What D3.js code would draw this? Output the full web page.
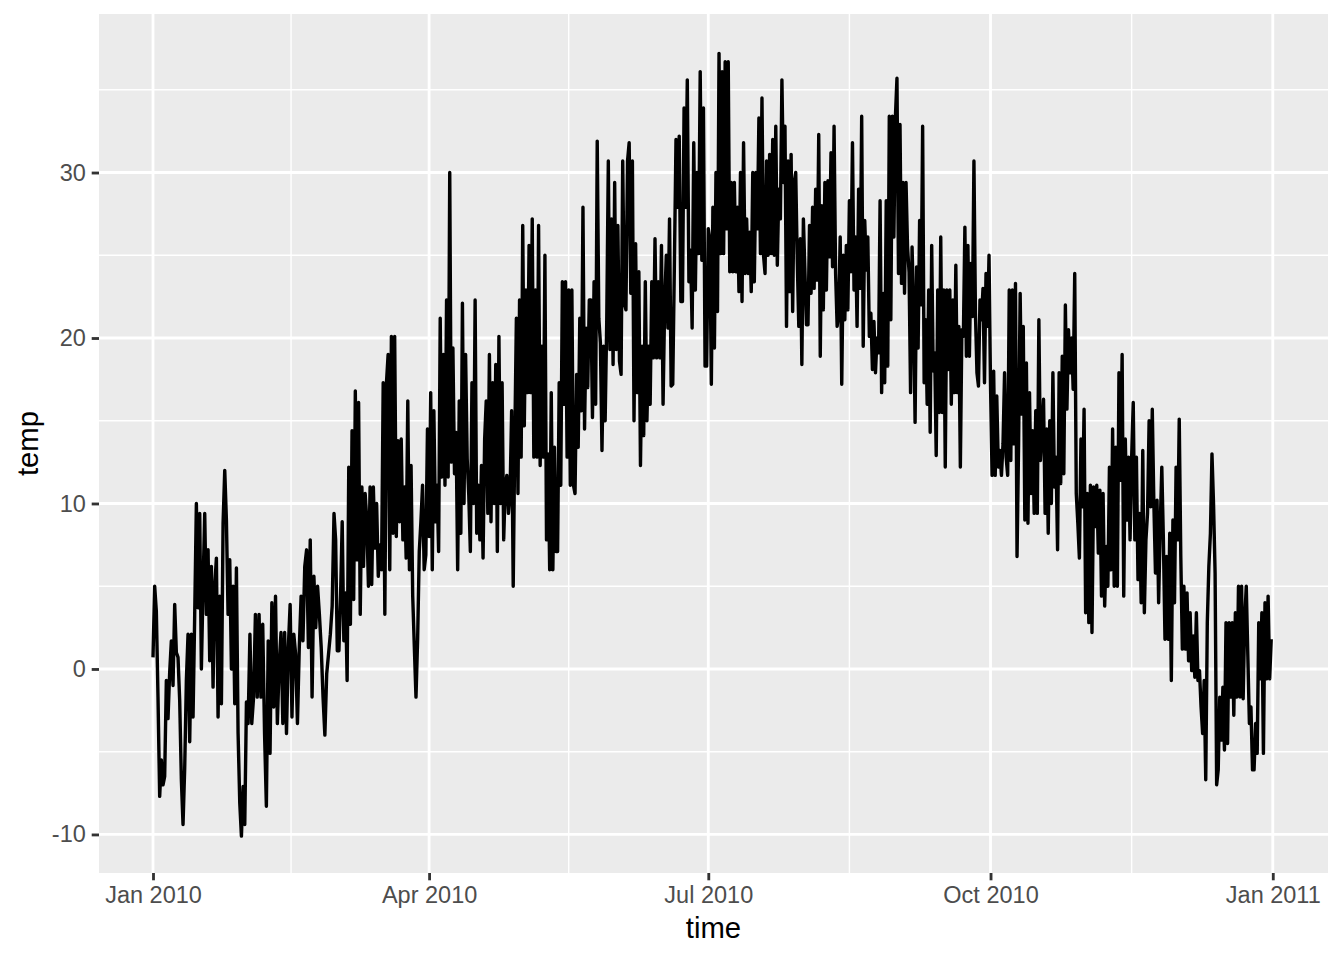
<!DOCTYPE html>
<html><head><meta charset="utf-8">
<script src="https://cdn.jsdelivr.net/npm/d3@7"></script>
<style>body{margin:0;background:#fff} svg{display:block}</style>
</head><body>
<svg id="chart" width="1344" height="960"></svg>
<script>
// Temperature observations per month (evenly spaced through each month)
const jan = [0.7, 5.0, 3.5, -1.7, -7.7, -5.5, -7.0, -6.5, -0.7, -3.0, -0.2, 1.7, -1.0, 3.9, 1.0, 0.7, -1.9, -6.7, -9.4, -6.0, -0.7, 2.1, -4.4, 2.1, -2.9, 3.3, 10.0, 3.7, 9.4, 0.0, 5.0, 9.4, 3.3, 7.2, 0.5, 6.2, -1.1, 5.0, 6.7, -2.9, 4.4, -2.1, 8.8, 12.0, 9.0, 3.3, 6.6, 0.0, 5.0, -2.1, 6.1, -3.9, -8.1, -10.1, -7.1, -9.4, -2.0];
const feb = [-3.3, 2.1, -3.3, -1.7, 3.3, -1.7, 3.3, -1.7, 2.7, -3.9, -8.3, 1.7, -5.1, 4.0, -2.3, 4.4, -3.3, 0.3, 2.2, -3.3, 2.2, -3.9, 1.3, 3.9, -2.9, 2.1, 0.9, -3.3, 1.3, 4.4, 1.7, 6.2, 7.2, 1.3, 7.8, -1.7, 5.6, 2.5, 5.0, 3.3, 1.3, -1.7, -4.0, -0.3, 0.9, 2.1, 3.8];
const mar = [9.4, 7.8, 1.1, 1.1, 4.4, 8.9, 1.7, 4.6, -0.7, 12.2, 2.7, 14.4, 4.2, 16.8, 6.6, 16.1, 3.3, 11.0, 6.2, 10.6, 9.0, 5.0, 11.0, 5.1, 11.0, 7.3, 10.0, 5.6, 7.5, 6.0, 17.3, 3.3, 17.3, 19.0, 6.0, 20.1, 8.2, 20.1, 8.0, 13.8, 8.9, 13.9, 7.8, 11.0, 6.7, 16.2, 6.0, 12.3, 4.4, 1.3, -1.7, 1.8, 7.1, 8.9, 11.1, 6.0, 6.9, 14.5];
const apr = [8.0, 16.7, 6.0, 15.6, 8.9, 11.1, 7.1, 21.2, 11.6, 19.0, 11.1, 22.3, 11.6, 30.0, 12.5, 19.4, 11.8, 14.3, 6.0, 16.2, 8.2, 22.1, 10.0, 19.0, 12.7, 10.5, 7.1, 17.3, 10.0, 22.3, 8.2, 11.1, 7.8, 12.3, 6.7, 13.9, 16.2, 9.4, 19.0, 8.9, 17.3, 10.0, 18.4, 7.1, 20.1, 10.0, 17.3, 7.8, 11.1, 11.7, 9.4, 10.6, 15.6, 5.0, 13.9, 21.2, 10.6, 22.3];
const may = [12.8, 26.8, 14.7, 22.9, 16.7, 25.6, 16.7, 27.2, 12.8, 22.9, 12.8, 26.8, 12.3, 19.5, 12.8, 25.0, 7.8, 13.0, 6.0, 16.7, 6.0, 13.4, 7.1, 7.1, 17.3, 11.1, 23.4, 16.0, 23.4, 12.8, 22.9, 11.1, 22.9, 11.1, 10.6, 17.8, 13.4, 21.2, 15.6, 27.9, 14.5, 20.6, 17.0, 22.3, 22.3, 15.2, 23.4, 16.0, 31.9, 21.2, 19.7, 13.2, 19.5, 15.0, 21.0, 30.7, 19.3, 27.2, 18.4, 29.4];
const jun = [19.3, 26.8, 18.6, 17.8, 30.7, 22.1, 21.7, 30.7, 31.8, 22.7, 30.7, 15.0, 25.7, 16.7, 24.0, 12.3, 19.5, 14.1, 23.4, 15.0, 19.5, 16.0, 23.4, 18.8, 26.0, 18.8, 23.4, 18.8, 25.6, 16.0, 22.1, 25.0, 20.6, 27.2, 17.1, 17.2, 24.4, 32.0, 27.9, 32.2, 22.2, 22.2, 33.9, 27.9, 35.6, 23.4, 25.3, 20.6, 31.8, 22.9, 30.0, 25.1, 36.1, 24.7, 33.9, 18.3, 18.3];
const jul = [26.6, 26.0, 17.2, 27.9, 19.4, 30.0, 21.6, 37.2, 25.1, 36.1, 25.1, 36.7, 26.6, 36.7, 24.0, 29.4, 24.0, 29.4, 24.0, 27.9, 22.8, 30.0, 22.2, 31.8, 23.9, 27.2, 23.9, 26.4, 22.8, 30.0, 23.4, 30.0, 26.6, 33.3, 25.1, 34.5, 25.0, 23.9, 30.7, 25.0, 31.1, 25.1, 32.0, 25.0, 32.8, 24.4, 29.0, 27.2, 35.6, 29.4, 32.8, 20.7, 30.7, 22.8, 31.1, 21.6, 29.4, 30.0, 24.7, 20.7, 26.0, 18.4];
const aug = [27.2, 24.0, 20.8, 20.8, 26.8, 22.7, 27.9, 23.0, 29.0, 23.5, 32.3, 18.9, 28.0, 21.7, 29.4, 22.9, 29.5, 24.9, 31.2, 24.3, 32.8, 23.9, 20.7, 21.5, 26.1, 17.2, 25.0, 21.1, 25.6, 21.7, 28.3, 24.0, 31.8, 22.9, 26.1, 20.7, 29.0, 23.0, 33.4, 19.5, 27.1, 24.1, 26.1, 20.1, 21.5, 18.1, 21.0, 17.9, 20.0, 19.1, 28.3, 16.7, 22.7, 17.3, 28.3, 18.3, 33.4, 21.1, 33.4, 26.1, 33.4, 35.7];
const sep = [23.9, 32.9, 23.3, 29.4, 22.7, 29.4, 25.5, 24.0, 16.7, 25.5, 21.7, 14.9, 24.3, 19.4, 27.1, 22.0, 32.8, 17.3, 21.1, 16.0, 22.9, 14.3, 25.6, 18.0, 19.1, 12.9, 22.9, 15.5, 26.1, 15.5, 22.9, 12.2, 22.9, 18.1, 22.9, 16.0, 22.3, 16.7, 24.4, 16.7, 20.7, 12.2, 20.5, 20.1, 26.7, 18.9, 25.6, 18.9, 24.5, 21.3, 30.7, 21.5, 17.9, 17.1, 22.3, 21.1, 23.0, 17.3, 23.9, 20.7, 25.0];
const oct = [17.1, 11.7, 18.0, 11.7, 16.5, 12.2, 13.2, 11.7, 13.6, 17.9, 12.8, 11.7, 22.9, 12.6, 22.9, 13.6, 23.3, 6.8, 13.6, 22.7, 15.4, 20.7, 9.0, 18.5, 8.8, 16.7, 10.6, 14.4, 9.4, 15.6, 9.4, 21.1, 12.6, 14.4, 16.3, 9.4, 14.5, 8.2, 15.0, 10.0, 17.9, 11.0, 12.8, 7.2, 17.9, 11.2, 18.9, 11.8, 22.0, 15.7, 20.5, 17.9, 20.0, 16.9, 23.9, 10.6, 8.8, 6.7, 13.9, 9.8, 15.7];
const nov = [3.4, 10.6, 2.8, 11.1, 2.2, 11.0, 8.6, 11.1, 7.0, 10.8, 4.4, 10.6, 3.8, 7.4, 5.0, 12.2, 6.0, 14.5, 5.0, 13.4, 5.0, 17.9, 11.4, 19.0, 4.4, 13.9, 9.0, 12.8, 7.8, 12.8, 16.1, 7.8, 12.8, 5.4, 9.4, 4.0, 13.2, 3.4, 7.8, 9.4, 15.0, 9.8, 15.7, 10.0, 5.8, 10.2, 4.0, 8.6, 12.2, 7.8, 1.8, 6.8, 1.8, 8.2, -0.7, 9.0, 4.0, 12.2];
const dec = [7.8, 15.1, 6.8, 1.2, 5.0, 1.2, 4.6, 0.5, 3.4, -0.1, 2.0, -0.5, 3.4, -0.7, -0.1, -2.3, -3.9, -0.7, -6.7, 2.8, 6.2, 8.2, 13.0, 10.0, 5.8, -7.0, -6.1, -1.7, -4.3, -1.1, -4.9, 2.8, -4.5, 2.8, -1.7, 2.8, -2.8, 3.4, -1.7, 5.0, -1.7, 5.0, -1.8, 3.0, 5.0, 0.8, -3.3, -2.3, -6.1, -6.1, -3.3, -5.1, 2.8, -0.6, 3.4, -5.1, 4.0, -0.6, 4.4, -0.6, 1.8];

const xTickDates = ["2010-01-01", "2010-04-01", "2010-07-01", "2010-10-01", "2011-01-01"];
const xTickLabels = ["Jan 2010", "Apr 2010", "Jul 2010", "Oct 2010", "Jan 2011"];
const yTicks = [-10, 0, 10, 20, 30];
const yMinor = [-5, 5, 15, 25, 35];

const months = [jan, feb, mar, apr, may, jun, jul, aug, sep, oct, nov, dec];
const data = [];
months.forEach((vals, m) => {
  const s = Date.UTC(2010, m, 1), e = Date.UTC(2010, m + 1, 1);
  vals.forEach((v, i) => data.push({ time: new Date(s + i * (e - s) / vals.length), temp: v }));
});

const P = { left: 99, top: 14, right: 1328, bottom: 873 };
const DAY = 864e5;
const x = d3.scaleUtc()
  .domain([new Date(Date.UTC(2010, 0, 1) - 17.6 * DAY), new Date(Date.UTC(2011, 0, 1) + 18 * DAY)])
  .range([P.left, P.right]);
const y = d3.scaleLinear().domain([-12.33, 39.58]).range([P.bottom, P.top]);

const svg = d3.select("#chart");
const FONT = "'Liberation Sans', Arial, Helvetica, sans-serif";

svg.append("rect").attr("x", P.left).attr("y", P.top)
  .attr("width", P.right - P.left).attr("height", P.bottom - P.top).attr("fill", "#EBEBEB");

const xMajor = xTickDates.map(d => new Date(d + "T00:00:00Z"));
const xMinor = d3.pairs(xMajor).map(([a, b]) => new Date((+a + +b) / 2));

const grid = svg.append("g").attr("stroke", "#FFFFFF").attr("fill", "none");
grid.selectAll(".ymin").data(yMinor).join("line")
  .attr("x1", P.left).attr("x2", P.right).attr("y1", d => y(d)).attr("y2", d => y(d)).attr("stroke-width", 1.42);
grid.selectAll(".xmin").data(xMinor).join("line")
  .attr("y1", P.top).attr("y2", P.bottom).attr("x1", d => x(d)).attr("x2", d => x(d)).attr("stroke-width", 1.42);
grid.selectAll(".ymaj").data(yTicks).join("line")
  .attr("x1", P.left).attr("x2", P.right).attr("y1", d => y(d)).attr("y2", d => y(d)).attr("stroke-width", 2.84);
grid.selectAll(".xmaj").data(xMajor).join("line")
  .attr("y1", P.top).attr("y2", P.bottom).attr("x1", d => x(d)).attr("x2", d => x(d)).attr("stroke-width", 2.84);

const line = d3.line().x(d => x(d.time)).y(d => y(d.temp));
svg.append("path").datum(data).attr("d", line)
  .attr("fill", "none").attr("stroke", "#000000").attr("stroke-width", 3.4)
  .attr("stroke-linejoin", "round").attr("stroke-linecap", "butt");

const xAxis = svg.append("g").attr("transform", `translate(0,${P.bottom})`)
  .call(d3.axisBottom(x).tickValues(xMajor).tickFormat((d, i) => xTickLabels[i]).tickSize(7.3).tickPadding(5.9));
const yAxis = svg.append("g").attr("transform", `translate(${P.left},0)`)
  .call(d3.axisLeft(y).tickValues(yTicks).tickFormat(d => String(d)).tickSize(7.3).tickPadding(5.9));
[xAxis, yAxis].forEach(g => {
  g.select(".domain").remove();
  g.selectAll(".tick line").attr("stroke", "#333333").attr("stroke-width", 2.84);
  g.selectAll(".tick text").attr("fill", "#4D4D4D").style("font-family", FONT).style("font-size", "23.5px");
});

svg.append("text").attr("x", (P.left + P.right) / 2).attr("y", 938)
  .attr("text-anchor", "middle").style("font-family", FONT).style("font-size", "29.3px").attr("fill", "#000")
  .text("time");
svg.append("text").attr("transform", `translate(38,${(P.top + P.bottom) / 2}) rotate(-90)`)
  .attr("text-anchor", "middle").style("font-family", FONT).style("font-size", "29.3px").attr("fill", "#000")
  .text("temp");
</script>
</body></html>
